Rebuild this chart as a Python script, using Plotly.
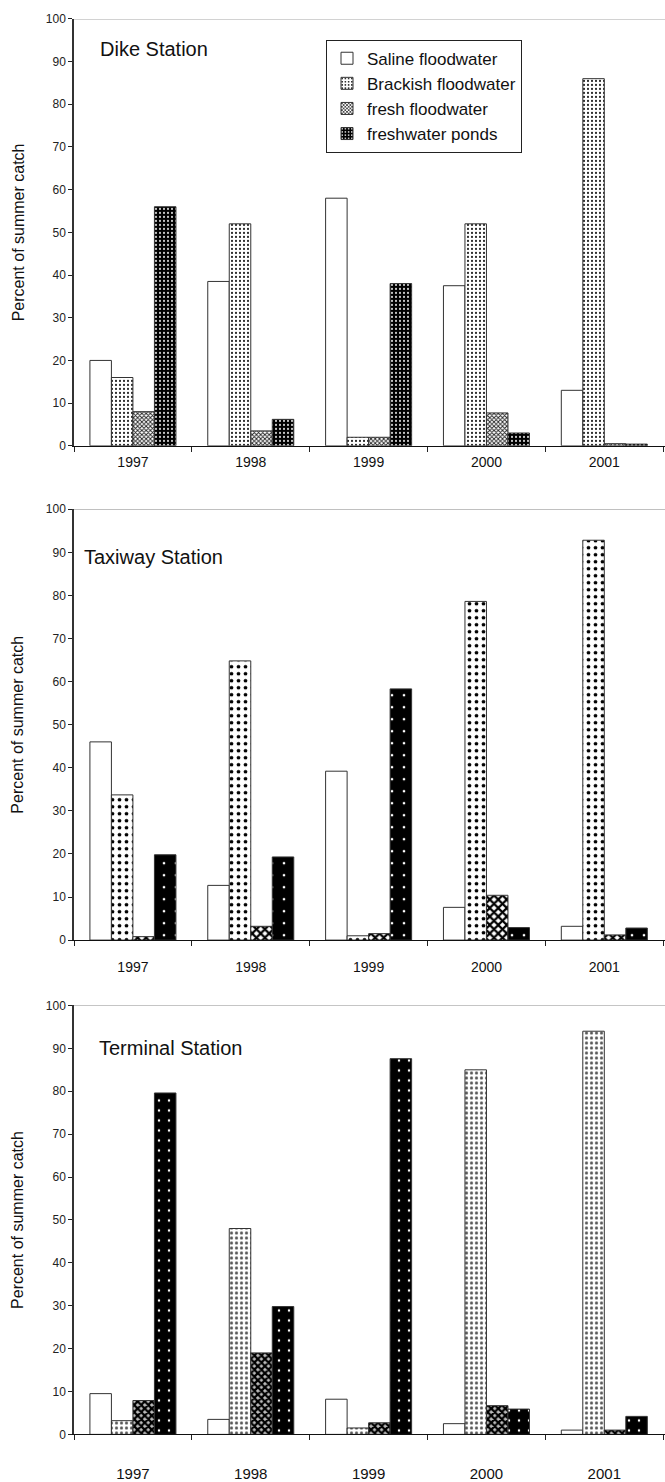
import plotly.graph_objects as go

# Summer catch composition (%) by water type, three sampling stations
years = ["1997", "1998", "1999", "2000", "2001"]
series_names = ["Saline floodwater", "Brackish floodwater", "fresh floodwater", "freshwater ponds"]
stations = ["Dike Station", "Taxiway Station", "Terminal Station"]

dike_saline = [20.0, 38.5, 58.0, 37.5, 13.0]
dike_brackish = [16.0, 52.0, 2.0, 52.0, 86.0]
dike_fresh = [8.0, 3.5, 2.0, 7.7, 0.5]
dike_ponds = [56.0, 6.2, 38.0, 3.0, 0.4]

taxiway_saline = [46.0, 12.7, 39.2, 7.6, 3.2]
taxiway_brackish = [33.7, 64.8, 1.0, 78.6, 92.8]
taxiway_fresh = [0.8, 3.2, 1.5, 10.4, 1.2]
taxiway_ponds = [19.8, 19.3, 58.3, 2.9, 2.8]

terminal_saline = [9.5, 3.5, 8.2, 2.5, 1.0]
terminal_brackish = [3.2, 48.0, 1.5, 85.0, 94.0]
terminal_fresh = [7.9, 19.0, 2.7, 6.7, 1.0]
terminal_ponds = [79.6, 29.8, 87.6, 5.9, 4.2]

station_values = [
    [dike_saline, dike_brackish, dike_fresh, dike_ponds],
    [taxiway_saline, taxiway_brackish, taxiway_fresh, taxiway_ponds],
    [terminal_saline, terminal_brackish, terminal_fresh, terminal_ponds],
]

# fill patterns per station, per series
patterns = [
    [
        dict(shape="", bgcolor="white", fgcolor="white"),
        dict(shape=".", bgcolor="white", fgcolor="black", size=4, solidity=0.22),
        dict(shape="x", bgcolor="white", fgcolor="#222", size=3, solidity=0.5),
        dict(shape=".", bgcolor="black", fgcolor="white", size=4, solidity=0.2),
    ],
    [
        dict(shape="", bgcolor="white", fgcolor="white"),
        dict(shape=".", bgcolor="white", fgcolor="black", size=7, solidity=0.22),
        dict(shape="x", bgcolor="white", fgcolor="black", size=6, solidity=0.6),
        dict(shape=".", bgcolor="black", fgcolor="white", size=12, solidity=0.04),
    ],
    [
        dict(shape="", bgcolor="white", fgcolor="white"),
        dict(shape=".", bgcolor="white", fgcolor="#555", size=5, solidity=0.3),
        dict(shape="x", bgcolor="#bbb", fgcolor="black", size=5, solidity=0.7),
        dict(shape=".", bgcolor="black", fgcolor="white", size=10, solidity=0.05),
    ],
]

H = 1482.0
W = 665.0
# vertical pixel extents (top, bottom) of each panel's plot area
panel_px = [(12, 443), (507, 942), (1008, 1441)]
label_standoff = [3, 14, 26]
title_pos = [(98, 93.0), (82, 89.0), (97, 90.0)]

fig = go.Figure()
layout = dict(
    width=665, height=1482,
    margin=dict(l=0, r=0, t=0, b=0),
    paper_bgcolor="white", plot_bgcolor="white",
    barmode="group", bargap=0.27, bargroupgap=0.0,
    font=dict(family="Liberation Sans, Arial, sans-serif", color="#111"),
    showlegend=True,
    legend=dict(
        x=326 / W, y=1 - 33 / H, xanchor="left", yanchor="top",
        bgcolor="white", bordercolor="#222", borderwidth=1,
        font=dict(size=17, color="#111"),
        tracegroupgap=0, itemwidth=30,
    ),
)

annotations = []
shapes = []
for p, (top, bot) in enumerate(panel_px):
    suffix = "" if p == 0 else str(p + 1)
    xa, ya = "x" + suffix, "y" + suffix
    for s, name in enumerate(series_names):
        pat = dict(patterns[p][s])
        pat["fillmode"] = "replace"
        fig.add_trace(go.Bar(
            x=years, y=station_values[p][s], name=name,
            xaxis=xa, yaxis=ya,
            marker=dict(color=pat["bgcolor"], pattern=pat,
                        line=dict(color="#333", width=1)),
            showlegend=(p == 0),
            legendgroup=name,
        ))
    layout["xaxis" + suffix] = dict(
        domain=[74 / W, 1.0], anchor=ya, type="category",
        range=[-0.5, 4.515], tickson="boundaries",
        ticks="outside", ticklen=5, tickcolor="#222",
        showline=True, linecolor="#111", linewidth=1,
        showgrid=False, zeroline=False,
        tickfont=dict(size=14 if p < 2 else 15, color="#111"),
        ticklabelstandoff=label_standoff[p],
    )
    layout["yaxis" + suffix] = dict(
        domain=[1 - bot / H, 1 - top / H], anchor=xa,
        range=[0, 100], dtick=10, tick0=0,
        ticks="outside", ticklen=4, tickcolor="#222",
        showline=True, linecolor="#333", linewidth=1.5,
        showgrid=False, zeroline=False,
        tickfont=dict(size=12, color="#222"),
    )
    # plot-area top border
    shapes.append(dict(type="line", xref=xa + " domain", yref=ya,
                       x0=0, x1=1, y0=100, y1=100,
                       line=dict(color="#888", width=1)))
    # station label inside panel
    tx, tv = title_pos[p]
    annotations.append(dict(
        text=stations[p], xref="paper", yref=ya,
        x=tx / W, y=tv, xanchor="left", yanchor="middle",
        showarrow=False, font=dict(size=20, color="#111"),
    ))
    # y-axis title
    annotations.append(dict(
        text="Percent of summer catch", xref="paper", yref="paper",
        x=18 / W, y=1 - (top + bot) / 2 / H, xanchor="center", yanchor="middle",
        textangle=-90, showarrow=False, font=dict(size=16, color="#111"),
    ))

layout["annotations"] = annotations
layout["shapes"] = shapes
fig.update_layout(**layout)
fig.write_html("out.html")
